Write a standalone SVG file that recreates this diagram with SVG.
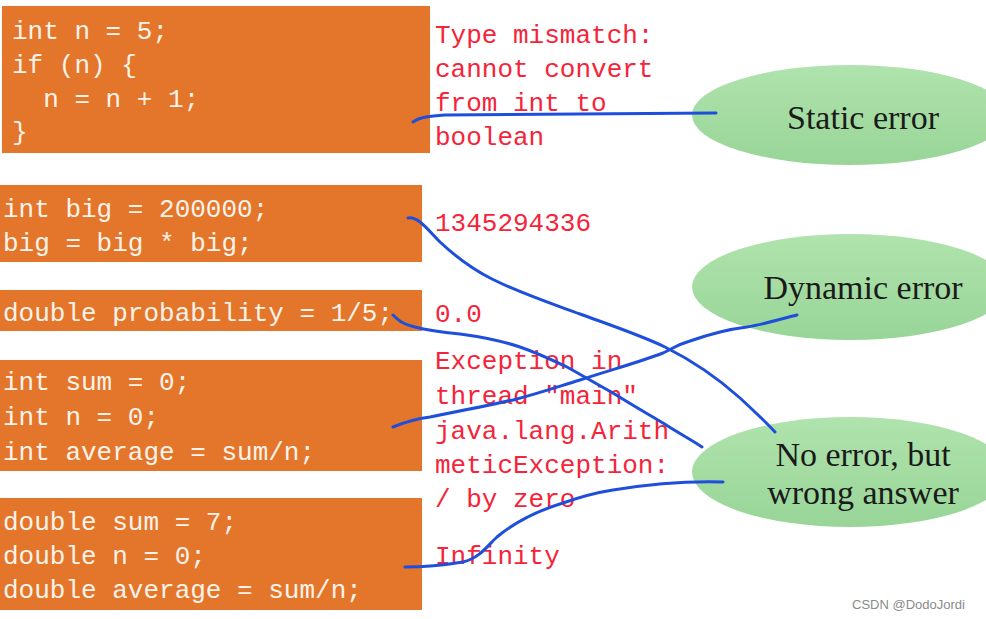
<svg xmlns="http://www.w3.org/2000/svg" width="986" height="619" viewBox="0 0 986 619">
<defs>
<linearGradient id="g" x1="0" y1="0" x2="0" y2="1">
<stop offset="0" stop-color="#b0e3ad"/>
<stop offset="1" stop-color="#98d597"/>
</linearGradient>
</defs>
<style>
.box{fill:#e4762b}
.code{font-family:"Liberation Mono",monospace;font-size:26px;fill:#fbf3ea;white-space:pre}
.res{font-family:"Liberation Mono",monospace;font-size:26px;fill:#f5243a;white-space:pre}
.ell{fill:url(#g)}
.lbl{font-family:"Liberation Serif",serif;font-size:34px;fill:#1a1a1a;text-anchor:middle}
.ln{fill:none;stroke:#1d4fdc;stroke-width:3;stroke-linecap:round;stroke-linejoin:round}
.wm{font-family:"Liberation Sans",sans-serif;font-size:13px;fill:#8a8a8a}
</style>
<rect width="986" height="619" fill="#ffffff"/>
<g id="code1">
<rect class="box" x="2" y="6" width="428" height="147"/>
<text class="code" x="12" y="39">int n = 5;</text>
<text class="code" x="12" y="73">if (n) {</text>
<text class="code" x="12" y="107">  n = n + 1;</text>
<text class="code" x="12" y="140">}</text>
</g>
<g id="code2">
<rect class="box" x="0" y="185" width="422" height="77"/>
<text class="code" x="3" y="217">int big = 200000;</text>
<text class="code" x="3" y="251">big = big * big;</text>
</g>
<g id="code3">
<rect class="box" x="0" y="290" width="422" height="41"/>
<text class="code" x="3" y="321">double probability = 1/5;</text>
</g>
<g id="code4">
<rect class="box" x="0" y="360" width="422" height="111"/>
<text class="code" x="3" y="390">int sum = 0;</text>
<text class="code" x="3" y="425">int n = 0;</text>
<text class="code" x="3" y="460">int average = sum/n;</text>
</g>
<g id="code5">
<rect class="box" x="0" y="498" width="422" height="112"/>
<text class="code" x="3" y="530">double sum = 7;</text>
<text class="code" x="3" y="564">double n = 0;</text>
<text class="code" x="3" y="598">double average = sum/n;</text>
</g>
<g id="results">
<text class="res" x="435" y="43">Type mismatch:</text>
<text class="res" x="435" y="77">cannot convert</text>
<text class="res" x="435" y="111">from int to</text>
<text class="res" x="435" y="145">boolean</text>
<text class="res" x="435" y="231">1345294336</text>
<text class="res" x="435" y="322">0.0</text>
<text class="res" x="435" y="369">Exception in</text>
<text class="res" x="435" y="404">thread "main"</text>
<text class="res" x="435" y="439">java.lang.Arith</text>
<text class="res" x="435" y="473">meticException:</text>
<text class="res" x="435" y="507">/ by zero</text>
<text class="res" x="435" y="564">Infinity</text>
</g>
<g id="static">
<ellipse class="ell" cx="850" cy="115" rx="158" ry="50"/>
<text class="lbl" x="863" y="129">Static error</text>
</g>
<g id="dynamic">
<ellipse class="ell" cx="850" cy="287" rx="158" ry="53"/>
<text class="lbl" x="863" y="299">Dynamic error</text>
</g>
<g id="noerror">
<ellipse class="ell" cx="850" cy="472" rx="158" ry="55"/>
<text class="lbl" x="863" y="466">No error, but</text>
<text class="lbl" x="863" y="504">wrong answer</text>
</g>
<g id="connectors">
<path class="ln" d="M413,122 C420,117 430,116 445,115 L716,113"/>
<path class="ln" d="M408,218 C418,216 428,230 440,242 C455,256 470,268 492,279 C520,293 550,303 580,314 C610,325 640,335 665,347 C695,362 720,380 740,398 C755,412 766,422 775,432"/>
<path class="ln" d="M393,315 C398,320 402,324 415,327 C430,331 440,332 460,334 C490,338 505,342 520,347 C540,354 552,360 567,367 C585,377 600,386 613,393 C632,405 648,414 663,423 C680,434 692,440 702,447"/>
<path class="ln" d="M393,427 C405,422 415,419 430,417 C460,411 490,405 513,400 C540,393 560,386 580,380 C610,370 640,362 663,353 C672,349 676,345 690,341 C710,334 730,329 747,327 C765,324 785,318 797,315"/>
<path class="ln" d="M405,567 C425,567 445,565 463,562 C480,558 488,545 497,537 C515,522 540,510 563,503 C580,497 600,492 613,490 C650,484 690,481 723,482"/>
</g>
<text class="wm" x="852" y="609">CSDN @DodoJordi</text>
</svg>
